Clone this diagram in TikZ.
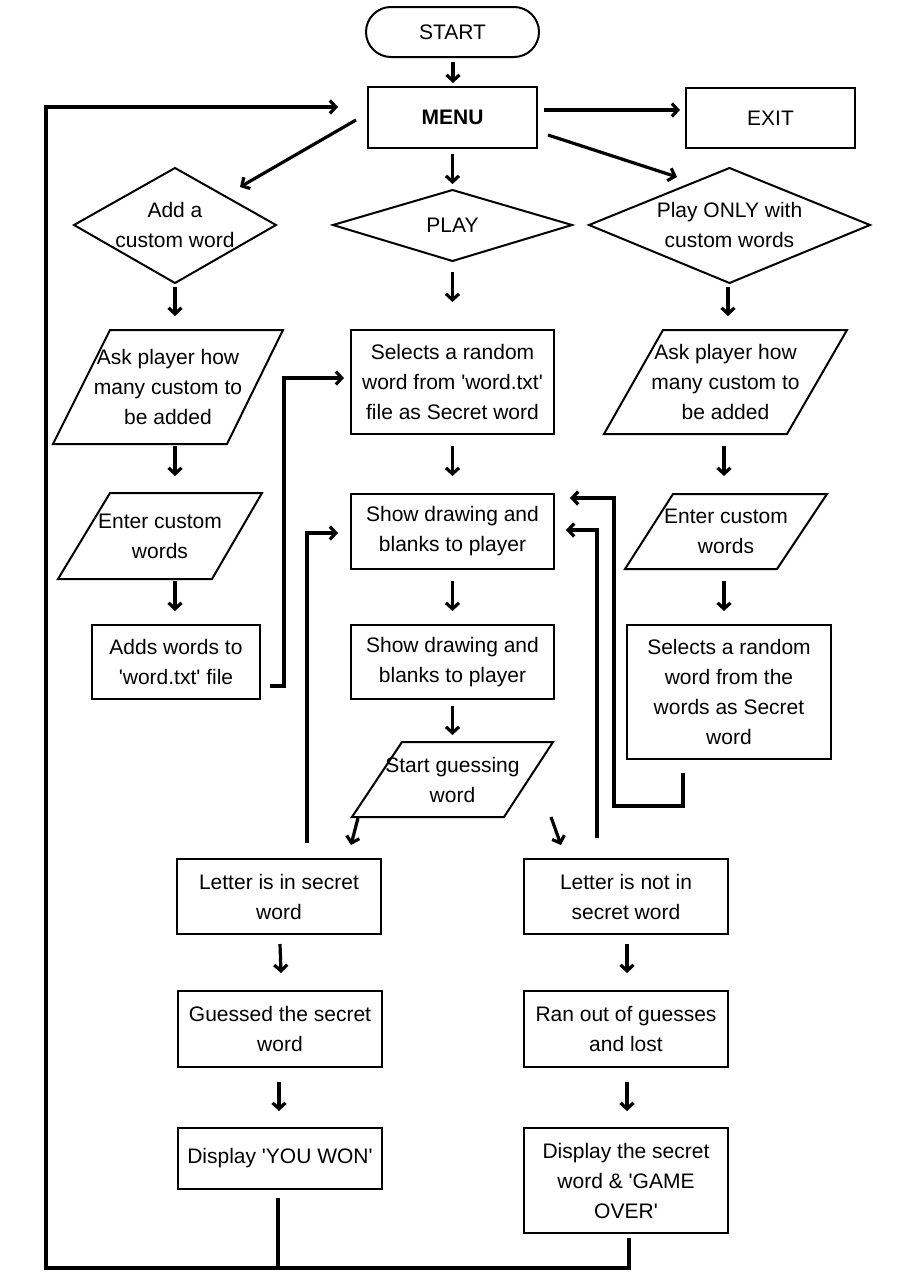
\documentclass[tikz,border=0pt]{standalone}
\usepackage{fontspec}
\setmainfont{Liberation Sans}
\usetikzlibrary{arrows.meta}
\newcommand\sq{\textquotesingle}
\begin{document}
\begin{tikzpicture}[x=1pt,y=-1pt,
  fnt/.style={font=\fontsize{21pt}{30pt}\selectfont},
  rbox/.style={draw, line width=2pt, align=center, inner sep=0pt, fnt},
  txt/.style={align=center, inner sep=0pt, fnt},
  outl/.style={line width=2pt, line join=miter},
  arr/.style={line width=3.2pt, -{Straight Barb[length=6pt,width=13pt]}},
  conn/.style={line width=3.2pt}]
\useasboundingbox (0,0) rectangle (905,1280);

% terminals and boxes
\node[rbox, rounded corners=25pt, minimum width=173pt, minimum height=50pt] (start) at (452.5,32) {START};
\node[rbox, minimum width=169pt, minimum height=61pt] (menu) at (452.5,117.5) {\bfseries MENU};
\node[rbox, minimum width=169pt, minimum height=60pt] (exit) at (770.5,118) {EXIT};

% diamonds
\draw[outl] (74,225) -- (175,168) -- (276,225) -- (175,283) -- cycle;
\node[txt] (add) at (175,225) {Add a\\custom word};
\draw[outl] (333,225) -- (452.5,190) -- (572,225) -- (452.5,261) -- cycle;
\node[txt] (play) at (452.5,225) {PLAY};
\draw[outl] (589,225) -- (729.5,168) -- (870,225) -- (729.5,283) -- cycle;
\node[txt] (only) at (729.5,225) {Play ONLY with\\custom words};

% parallelograms
\draw[outl] (110,330) -- (283,330) -- (227,444) -- (53,444) -- cycle;
\node[txt] (ask1) at (168,387) {Ask player how\\many custom to\\be added};
\draw[outl] (110,493) -- (262,493) -- (212,579) -- (58,579) -- cycle;
\node[txt] (enter1) at (160,536) {Enter custom\\words};
\draw[outl] (663,330) -- (847,330) -- (787,434) -- (604,434) -- cycle;
\node[txt] (ask2) at (725.5,382) {Ask player how\\many custom to\\be added};
\draw[outl] (673,494) -- (827,494) -- (777,569) -- (625,569) -- cycle;
\node[txt] (enter2) at (726,531) {Enter custom\\words};
\draw[outl] (402,742) -- (553,742) -- (504,817) -- (352,817) -- cycle;
\node[txt] (guess) at (452.5,779.5) {Start guessing\\word};

% process boxes
\node[rbox, minimum width=203pt, minimum height=104pt] (sel) at (452.5,382) {Selects a random\\word from \sq word.txt\sq\\file as Secret word};
\node[rbox, minimum width=203pt, minimum height=75pt] (show1) at (452.5,531.5) {Show drawing and\\blanks to player};
\node[rbox, minimum width=203pt, minimum height=74pt] (show2) at (452.5,662) {Show drawing and\\blanks to player};
\node[rbox, minimum width=168pt, minimum height=74pt] (adds) at (176,662) {Adds words to\\\sq word.txt\sq{} file};
\node[rbox, minimum width=204pt, minimum height=134pt] (selr) at (729,692) {Selects a random\\word from the\\words as Secret\\word};
\node[rbox, minimum width=204pt, minimum height=75pt] (lin) at (279,896.5) {Letter is in secret\\word};
\node[rbox, minimum width=204pt, minimum height=75pt] (lnot) at (626,896.5) {Letter is not in\\secret word};
\node[rbox, minimum width=204pt, minimum height=76pt] (gsd) at (280,1029) {Guessed the secret\\word};
\node[rbox, minimum width=204pt, minimum height=76pt] (ranout) at (626,1029) {Ran out of guesses\\and lost};
\node[rbox, minimum width=204pt, minimum height=61pt] (won) at (280,1158.5) {Display \sq YOU WON\sq};
\node[rbox, minimum width=204pt, minimum height=105pt] (over) at (626,1180.5) {Display the secret\\word \& \sq GAME\\OVER\sq};

% connectors
\draw[arr] ([shift={(0.5,30)}]start.center) -- ([shift={(0.5,-34.5)}]menu.center);
\draw[arr] ([shift={(91.5,-7.5)}]menu.center) -- ([shift={(-90.5,-8)}]exit.center);
\draw[arr] ([shift={(-96.5,2.5)}]menu.center) -- ([shift={(65,-38)}]add.center);
\draw[arr] ([shift={(0,36.5)}]menu.center) -- ([shift={(0,-41)}]play.center);
\draw[arr] ([shift={(95.5,17.5)}]menu.center) -- ([shift={(-52.5,-48)}]only.center);
\draw[arr] ([shift={(0,62)}]add.center) -- ([shift={(7,-71)}]ask1.center);
\draw[arr] ([shift={(0,47)}]play.center) -- ([shift={(0,-80)}]sel.center);
\draw[arr] ([shift={(-1.5,62)}]only.center) -- ([shift={(2.5,-66)}]ask2.center);
\draw[arr] ([shift={(7,59)}]ask1.center) -- ([shift={(15,-60)}]enter1.center);
\draw[arr] ([shift={(0,64)}]sel.center) -- ([shift={(0,-55.5)}]show1.center);
\draw[arr] ([shift={(-1.5,64)}]ask2.center) -- ([shift={(-2,-55)}]enter2.center);
\draw[arr] ([shift={(15,45)}]enter1.center) -- ([shift={(-1,-51)}]adds.center);
\draw[arr] ([shift={(0,49.5)}]show1.center) -- ([shift={(0,-51)}]show2.center);
\draw[arr] ([shift={(-2,50)}]enter2.center) -- ([shift={(-5,-81)}]selr.center);
\draw[arr] ([shift={(0,44)}]show2.center) -- ([shift={(0,-44.5)}]guess.center);
\draw[arr] ([shift={(94,24)}]adds.center) -- ++(14,0) |- ([shift={(-108.5,-4)}]sel.center);
\draw[arr] ([shift={(28,-53.5)}]lin.center) |- ([shift={(-114.5,1.5)}]show1.center);
\draw[arr] ([shift={(-29,-58.5)}]lnot.center) |- ([shift={(113.5,-1.5)}]show1.center);
\draw[arr] ([shift={(-46,81)}]selr.center) |- ++(-69,33) |- ([shift={(117.5,-33.5)}]show1.center);
\draw[arr] ([shift={(-94.5,38.5)}]guess.center) -- ([shift={(72,-51.5)}]lin.center);
\draw[arr] ([shift={(98.5,37.5)}]guess.center) -- ([shift={(-65,-51.5)}]lnot.center);
\draw[arr] ([shift={(1,47.5)}]lin.center) -- ([shift={(1,-56)}]gsd.center);
\draw[arr] ([shift={(1,47.5)}]lnot.center) -- ([shift={(1,-56)}]ranout.center);
\draw[arr] ([shift={(-1,53)}]gsd.center) -- ([shift={(-1,-47.5)}]won.center);
\draw[arr] ([shift={(1,53)}]ranout.center) -- ([shift={(1,-69.5)}]over.center);
\draw[conn] ([shift={(-2,39.5)}]won.center) -- ++(0,70);
\draw[arr] ([shift={(3,57.5)}]over.center) |- ++(-583,30) |- ([shift={(-114.5,-10.5)}]menu.center);
\end{tikzpicture}
\end{document}
